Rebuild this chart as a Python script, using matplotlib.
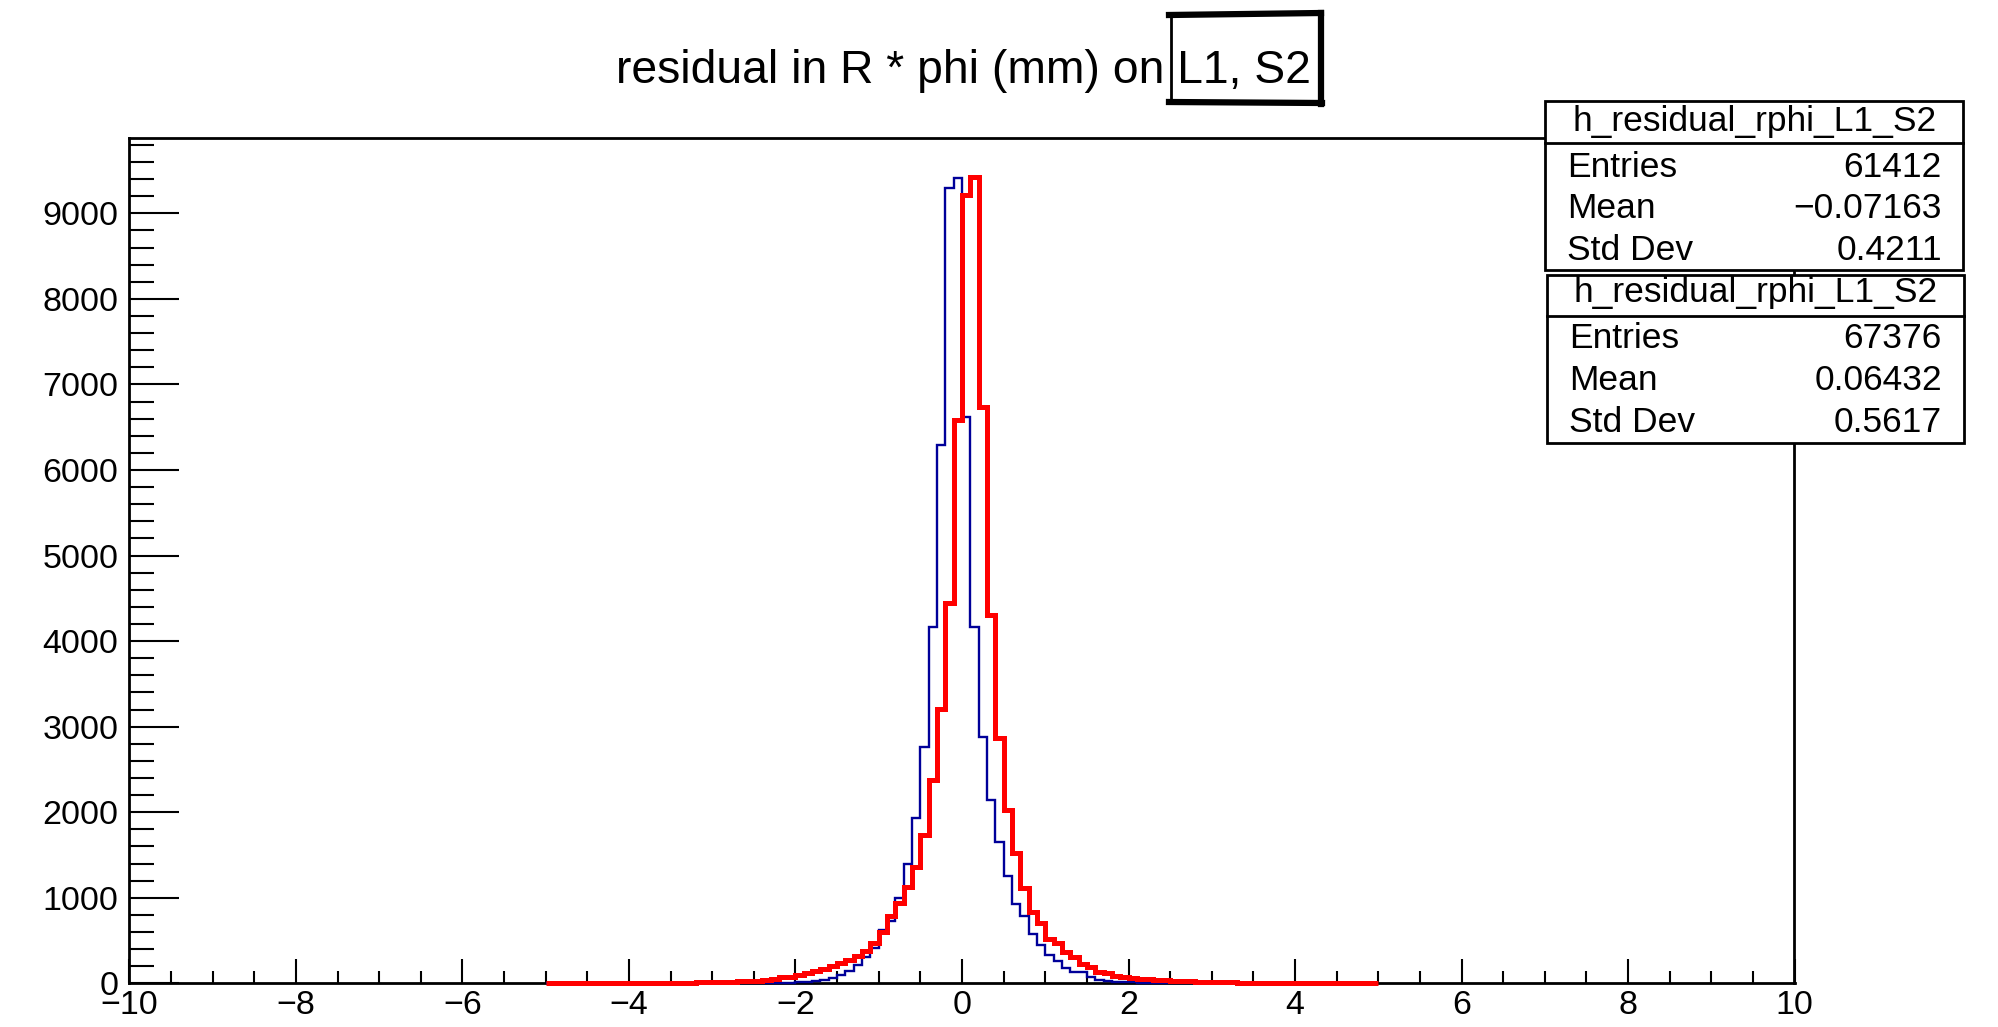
import numpy as np
import matplotlib
matplotlib.use("Agg")
import matplotlib.pyplot as plt
from matplotlib.patches import Rectangle
from matplotlib.lines import Line2D
from matplotlib.ticker import MultipleLocator

# ---------------- data ----------------
bin_edges = np.linspace(-5.0, 5.0, 101)   # 100 bins of width 0.1

blue_counts = [
    0, 0, 0, 0, 0, 0, 0, 0, 0, 0,            # -5.0 .. -4.0
    0, 0, 0, 0, 0, 0, 0, 0, 0, 0,            # -4.0 .. -3.0
    1, 1, 1, 2, 2,                           # -3.0 .. -2.5
    3, 4, 5, 7, 9,                           # -2.5 .. -2.0
    12, 20, 30, 39, 58, 97, 147, 214, 304, 409,          # -2.0 .. -1.0
    623, 728, 993, 1390, 1928, 2766, 4168, 6292, 9292, 9409,  # -1.0 .. 0.0
    6622, 4168, 2880, 2145, 1650, 1255, 930, 788, 575, 448,   # 0.0 .. 1.0
    325, 262, 175, 132, 130, 78, 39, 28, 20, 14,          # 1.0 .. 2.0
    10, 7, 5, 3, 2, 2, 1, 1, 1, 0,                        # 2.0 .. 3.0
    0, 0, 0, 0, 0, 0, 0, 0, 0, 0,                         # 3.0 .. 4.0
    0, 0, 0, 0, 0, 0, 0, 0, 0, 0,                         # 4.0 .. 5.0
]

red_counts = [
    1, 1, 1, 2, 2, 2, 2, 3, 3, 3,                         # -5.0 .. -4.0
    4, 4, 5, 5, 6, 7, 8, 9, 10, 12,                       # -4.0 .. -3.0
    14, 16, 19, 22, 26, 32, 40, 52, 70, 78,               # -3.0 .. -2.0
    97, 117, 144, 167, 202, 234, 272, 319, 381, 475,      # -2.0 .. -1.0
    603, 787, 942, 1129, 1363, 1734, 2376, 3202, 4448, 6584,  # -1.0 .. 0.0
    9213, 9428, 6740, 4305, 2863, 2025, 1519, 1110, 837, 710,  # 0.0 .. 1.0
    515, 476, 360, 311, 230, 187, 136, 117, 85, 70,       # 1.0 .. 2.0
    62, 55, 48, 42, 36, 32, 27, 23, 20, 17,               # 2.0 .. 3.0
    14, 12, 10, 9, 8, 7, 6, 5, 5, 4,                      # 3.0 .. 4.0
    4, 3, 3, 3, 2, 2, 2, 2, 1, 1,                         # 4.0 .. 5.0
]

title_main = "residual in R * phi (mm) on L1, S2"
hist_name = "h_residual_rphi_L1_S2"
stat_labels = ["Entries", "Mean", "Std Dev"]
stats_blue = ["61412", "\u22120.07163", "0.4211"]
stats_red = ["67376", "0.06432", "0.5617"]

# ---------------- figure ----------------
W, H = 1999, 1027
plt.rcParams['font.family'] = ['Liberation Sans', 'DejaVu Sans']
fig = plt.figure(figsize=(W / 100, H / 100), dpi=100)
fig.patch.set_facecolor('white')


def fx(x):
    return x / W


def fy(y):
    return 1 - y / H


ax = fig.add_axes([fx(129.5), fy(983.3), fx(1794.5) - fx(129.5), fy(138) - fy(983.3)])

ax.stairs(blue_counts, bin_edges, color='#000099', lw=1.7, zorder=3, clip_on=False)
ax.stairs(red_counts, bin_edges, color='#ff0000', lw=3.6, zorder=4, clip_on=False)

ax.set_xlim(-10, 10)
ax.set_ylim(0, 9880)
ax.xaxis.set_major_locator(MultipleLocator(2))
ax.xaxis.set_minor_locator(MultipleLocator(0.5))
ax.yaxis.set_major_locator(MultipleLocator(1000))
ax.yaxis.set_minor_locator(MultipleLocator(200))

ax.tick_params(which='both', direction='in', top=False, right=False, width=1.5, color='black')
ax.tick_params(axis='y', which='major', length=36, pad=8, labelsize=24.5)
ax.tick_params(axis='y', which='minor', length=18)
ax.tick_params(axis='x', which='major', length=17, pad=5, labelsize=24.5)
ax.tick_params(axis='x', which='minor', length=8.6)
for s in ax.spines.values():
    s.set_linewidth(2)
    s.set_zorder(2.5)

# ---------------- title ----------------
fig.text(fx(963.5), fy(83), title_main, ha='center', va='baseline', fontsize=33.3)

# hand-drawn style box around "L1, S2"
box_lines = [
    ((1171, 1171), (14, 103), 2.0),
    ((1169, 1321), (15, 13), 4.5),
    ((1321, 1321), (13, 104), 4.5),
    ((1169, 1322), (102, 103), 4.5),
]
for xs, ys, lw in box_lines:
    fig.add_artist(Line2D([fx(v) for v in xs], [fy(v) for v in ys],
                          transform=fig.transFigure, color='black', lw=lw,
                          solid_capstyle='projecting'))

# ---------------- stats boxes ----------------
def stats_box(left, right, top, bottom, sep, header_base, row_bases, values):
    fig.add_artist(Rectangle((fx(left), fy(bottom)), fx(right) - fx(left), fy(top) - fy(bottom),
                             transform=fig.transFigure, facecolor='white',
                             edgecolor='black', lw=2.0, zorder=10))
    fig.add_artist(Line2D([fx(left), fx(right)], [fy(sep), fy(sep)],
                          transform=fig.transFigure, color='black', lw=2.0, zorder=11))
    fig.text(fx((left + right) / 2 + 0.5), fy(header_base), hist_name, ha='center',
             va='baseline', fontsize=25.5, zorder=12)
    for lab, val, yb in zip(stat_labels, values, row_bases):
        fig.text(fx(left + 22), fy(yb), lab, ha='left', va='baseline', fontsize=25.5, zorder=12)
        fig.text(fx(1942), fy(yb), val, ha='right', va='baseline', fontsize=25.5, zorder=12)


stats_box(1545, 1963, 101, 270, 143.3, 131, [177, 218.5, 260], stats_blue)
stats_box(1547, 1964, 275, 443, 315.7, 302, [348, 390, 432], stats_red)

fig.savefig("out.png", dpi=100)
